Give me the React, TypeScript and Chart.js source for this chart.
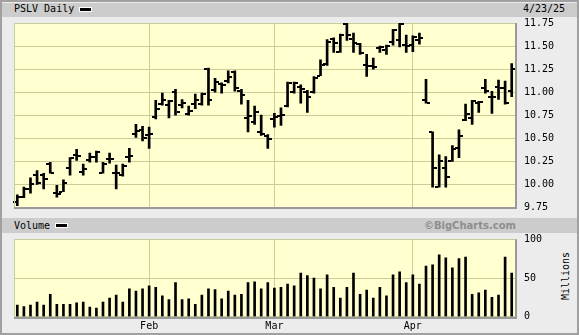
import React, { useEffect, useRef } from 'react';
import { Chart, registerables } from 'chart.js';

Chart.register(...registerables);

// ---------- data ----------
const dates: string[] = [
  '1/2', '1/3', '1/6', '1/7', '1/8', '1/10', '1/13', '1/14', '1/15', '1/16', '1/17', '1/21', '1/22', '1/23', '1/24', '1/27', '1/28', '1/29', '1/30', '1/31',
  '2/3', '2/4', '2/5', '2/6', '2/7', '2/10', '2/11', '2/12', '2/13', '2/14', '2/18', '2/19', '2/20', '2/21', '2/24', '2/25', '2/26', '2/27', '2/28',
  '3/3', '3/4', '3/5', '3/6', '3/7', '3/10', '3/11', '3/12', '3/13', '3/14', '3/17', '3/18', '3/19', '3/20', '3/21', '3/24', '3/25', '3/26', '3/27', '3/28', '3/31',
  '4/1', '4/2', '4/3', '4/4', '4/7', '4/8', '4/9', '4/10', '4/11', '4/14', '4/15', '4/16', '4/17', '4/21', '4/22', '4/23',
];

const opens: number[] = [
  9.81, 9.86, 9.95, 10.10, 10.10, 10.22, 9.905, 9.92, 10.18, 10.315, 10.13, 10.26, 10.30, 10.12, 10.28, 10.12, 10.10, 10.30, 10.55, 10.59,
  10.53, 10.73, 10.87, 10.86, 11.00, 10.86, 10.76, 10.87, 10.87, 11.25, 11.02, 11.09, 11.12, 11.22, 11.01, 10.72, 10.68, 10.57, 10.52,
  10.71, 10.74, 10.85, 11.00, 11.06, 11.00, 11.00, 11.18, 11.30, 11.58, 11.44, 11.74, 11.58, 11.52, 11.29, 11.28, 11.48, 11.46, 11.54, 11.57, 11.51,
  11.51, 11.57, 10.91, 10.57, 9.97, 10.18, 10.25, 10.39, 10.70, 10.72, 10.88, 11.04, 10.95, 11.06, 11.05, 11.01,
];
const highs: number[] = [
  9.885, 9.97, 10.07, 10.15, 10.12, 10.24, 9.99, 10.05, 10.29, 10.38, 10.22, 10.34, 10.36, 10.24, 10.34, 10.21, 10.22, 10.39, 10.65, 10.63,
  10.62, 10.91, 10.99, 10.91, 11.03, 10.92, 10.85, 10.98, 10.99, 11.26, 11.15, 11.10, 11.23, 11.23, 11.03, 10.91, 10.85, 10.75, 10.54,
  10.77, 10.83, 11.11, 11.11, 11.08, 11.02, 11.17, 11.35, 11.57, 11.59, 11.63, 11.75, 11.64, 11.53, 11.41, 11.37, 11.50, 11.51, 11.68, 11.75, 11.62,
  11.61, 11.64, 11.14, 10.57, 10.32, 10.30, 10.42, 10.59, 10.87, 10.91, 10.90, 11.14, 11.01, 11.13, 11.12, 11.31,
];
const lows: number[] = [
  9.77, 9.855, 9.905, 10.00, 9.95, 10.12, 9.86, 9.92, 10.10, 10.26, 10.10, 10.24, 10.24, 10.12, 10.23, 9.95, 10.09, 10.24, 10.51, 10.47,
  10.39, 10.71, 10.86, 10.72, 10.75, 10.83, 10.75, 10.82, 10.86, 10.86, 11.00, 10.99, 11.10, 11.01, 10.87, 10.57, 10.65, 10.53, 10.39,
  10.62, 10.64, 10.84, 10.99, 10.88, 10.78, 10.99, 11.18, 11.29, 11.43, 11.43, 11.56, 11.43, 11.41, 11.17, 11.25, 11.43, 11.41, 11.51, 11.49, 11.43,
  11.44, 11.52, 10.88, 9.97, 9.97, 9.97, 10.25, 10.29, 10.69, 10.65, 10.78, 10.99, 10.77, 10.92, 10.87, 10.95,
];
const closes: number[] = [
  9.86, 9.95, 10.00, 10.01, 10.06, 10.12, 9.90, 10.01, 10.29, 10.31, 10.17, 10.30, 10.35, 10.22, 10.27, 10.12, 10.20, 10.31, 10.58, 10.50,
  10.55, 10.82, 10.91, 10.90, 10.79, 10.88, 10.80, 10.92, 10.98, 10.92, 11.11, 11.08, 11.16, 11.04, 10.97, 10.74, 10.79, 10.55, 10.49,
  10.73, 10.75, 11.10, 11.10, 11.03, 10.95, 11.15, 11.29, 11.54, 11.53, 11.62, 11.62, 11.53, 11.42, 11.28, 11.27, 11.49, 11.50, 11.67, 11.74, 11.50,
  11.60, 11.59, 10.88, 10.18, 10.25, 10.08, 10.38, 10.52, 10.76, 10.90, 10.89, 11.01, 10.95, 11.05, 10.88, 11.25,
];
// volume, millions of shares
const volumes: number[] = [
  15, 13, 15, 19, 15, 29, 16, 16, 16, 18, 19, 12.5, 11, 19, 24, 28, 19, 36, 33, 36,
  40, 38, 27, 22, 44, 22, 23, 16, 28, 36, 35, 23, 33, 28, 29, 44, 45, 36, 44,
  37, 38, 42, 40, 56.5, 53, 50, 36, 54, 38, 24, 38, 56.5, 29, 34.5, 24, 38, 27, 54, 58, 44,
  54, 42, 65.5, 67, 80, 76, 63, 75, 77, 29, 31, 34.5, 25, 28, 77, 56.5,
];

const monthLabels: Record<string, string> = { '2/3': 'Feb', '3/3': 'Mar', '4/1': 'Apr' };
const priceTicks: number[] = [9.75, 10.0, 10.25, 10.5, 10.75, 11.0, 11.25, 11.5, 11.75];
const volumeTicks: number[] = [0, 50, 100];

// ---------- styles ----------
const PLOT_BG = '#ffffcf';
const GRID = '#cccc99';
const FRAME_DARK = '#9a9a9a';
const MONO = "'DejaVu Sans Mono', monospace";

const isMonthStart = (i: number) => monthLabels[dates[i]] !== undefined;

function tickImage(side: 'left' | 'right'): HTMLCanvasElement {
  const c = document.createElement('canvas');
  c.width = 8;
  c.height = 2;
  const g = c.getContext('2d')!;
  g.fillStyle = '#000';
  g.fillRect(side === 'left' ? 0 : 5, 0, 3, 2);
  return c;
}

const framePlugin = {
  id: 'plotFrame',
  beforeDraw(chart: any) {
    const { ctx, chartArea: a } = chart;
    ctx.save();
    ctx.fillStyle = PLOT_BG;
    ctx.fillRect(a.left, a.top, a.right - a.left, a.bottom - a.top);
    ctx.restore();
  },
  beforeDatasetsDraw(chart: any) {
    chart.ctx.imageSmoothingEnabled = false;
  },
  afterDraw(chart: any) {
    const { ctx, chartArea: a } = chart;
    ctx.save();
    ctx.lineWidth = 1;
    ctx.strokeStyle = GRID;
    ctx.beginPath();
    const lx = Math.round(a.left) + 0.5;
    ctx.moveTo(lx, a.top);
    ctx.lineTo(lx, a.bottom);
    ctx.stroke();
    ctx.strokeStyle = FRAME_DARK;
    ctx.lineWidth = 2;
    const by = Math.round(a.bottom) + 1;
    const rx = Math.round(a.right) + 1;
    ctx.beginPath();
    ctx.moveTo(a.left, by);
    ctx.lineTo(rx + 1, by);
    ctx.moveTo(rx, a.top);
    ctx.lineTo(rx, by + 1);
    ctx.stroke();
    ctx.restore();
  },
};

const axisFont = { family: MONO, size: 10 };

const fixRightAxis = (s: any) => {
  s.width = 64;
  s.paddingTop = 0;
  s.paddingBottom = 0;
};

export default function App() {
  const priceRef = useRef<HTMLCanvasElement>(null);
  const volRef = useRef<HTMLCanvasElement>(null);

  useEffect(() => {
    const openImg = tickImage('left');
    const closeImg = tickImage('right');

    const price = new Chart(priceRef.current!, {
      type: 'bar',
      data: {
        labels: dates,
        datasets: [
          {
            type: 'bar',
            data: dates.map((_, i) => [lows[i], highs[i]]) as any,
            backgroundColor: '#000',
            borderWidth: 0,
            barThickness: 2,
            order: 2,
          },
          {
            type: 'line',
            data: opens,
            showLine: false,
            pointStyle: openImg as any,
            pointRadius: 3,
            order: 1,
          } as any,
          {
            type: 'line',
            data: closes,
            showLine: false,
            pointStyle: closeImg as any,
            pointRadius: 3,
            order: 1,
          } as any,
        ],
      },
      options: {
        animation: false,
        responsive: false,
        events: [],
        layout: { padding: { left: 14, top: 23, right: 0, bottom: 8.6 } },
        plugins: { legend: { display: false }, tooltip: { enabled: false } },
        scales: {
          x: {
            type: 'category',
            offset: true,
            border: { display: false },
            grid: {
              offset: false,
              drawTicks: false,
              color: (c: any) => (isMonthStart(c.index) ? GRID : 'rgba(0,0,0,0)'),
            },
            ticks: { display: false, autoSkip: false },
          },
          y: {
            position: 'right',
            min: priceTicks[0],
            max: priceTicks[priceTicks.length - 1],
            border: { display: false },
            grid: { color: GRID, drawTicks: false },
            afterBuildTicks: (s: any) => {
              s.ticks = priceTicks.map((v) => ({ value: v }));
            },
            afterFit: fixRightAxis,
            ticks: {
              padding: 9,
              color: '#000',
              font: axisFont,
              callback: (v: any) => Number(v).toFixed(2),
            },
          },
        },
      } as any,
      plugins: [framePlugin],
    });

    const vol = new Chart(volRef.current!, {
      type: 'bar',
      data: {
        labels: dates,
        datasets: [
          {
            data: volumes,
            backgroundColor: '#000',
            borderWidth: 0,
            barThickness: 2,
          },
        ],
      },
      options: {
        animation: false,
        responsive: false,
        events: [],
        layout: { padding: { left: 14, top: 7.3, right: 0, bottom: 0 } },
        plugins: { legend: { display: false }, tooltip: { enabled: false } },
        scales: {
          x: {
            type: 'category',
            offset: true,
            border: { display: false },
            grid: {
              offset: false,
              drawTicks: false,
              color: (c: any) => (isMonthStart(c.index) ? GRID : 'rgba(0,0,0,0)'),
            },
            afterFit: (s: any) => {
              s.height = 18.3;
              s.paddingLeft = 0;
              s.paddingRight = 0;
            },
            ticks: {
              autoSkip: false,
              maxRotation: 0,
              minRotation: 0,
              padding: 4,
              color: '#000',
              font: axisFont,
              callback: (_v: any, i: number) => monthLabels[dates[i]] ?? '',
            },
          },
          y: {
            position: 'right',
            min: volumeTicks[0],
            max: volumeTicks[volumeTicks.length - 1],
            border: { display: false },
            grid: { color: GRID, drawTicks: false },
            afterBuildTicks: (s: any) => {
              s.ticks = volumeTicks.map((v) => ({ value: v }));
            },
            afterFit: fixRightAxis,
            ticks: {
              padding: 9,
              color: '#000',
              font: axisFont,
              callback: (v: any) => String(v),
            },
          },
        },
      } as any,
      plugins: [framePlugin],
    });

    return () => {
      price.destroy();
      vol.destroy();
    };
  }, []);

  const monoText: React.CSSProperties = {
    position: 'absolute',
    fontFamily: MONO,
    fontSize: 10,
    lineHeight: '10px',
    color: '#000',
    whiteSpace: 'nowrap',
  };
  const swatch = (left: number, top: number): React.CSSProperties => ({
    position: 'absolute',
    left,
    top,
    width: 11,
    height: 3,
    background: '#000',
    outline: '1px solid #fff',
  });

  return (
    <div
      style={{
        position: 'absolute',
        left: 0,
        top: 0,
        width: 579,
        height: 335,
        background: '#ececec',
        boxShadow: 'inset 0 0 0 2px #a0a0a0',
        overflow: 'hidden',
      }}
    >
      <div style={{ position: 'absolute', left: 2, top: 3, width: 575, height: 14, background: '#cccccc' }} />
      <div style={{ position: 'absolute', left: 2, top: 218, width: 575, height: 15, background: '#cccccc' }} />
      <div style={{ ...monoText, left: 14, top: 4.3 }}>PSLV Daily</div>
      <div style={swatch(80, 8)} />
      <div style={{ ...monoText, left: 523, top: 4.3 }}>4/23/25</div>
      <div style={{ ...monoText, left: 14, top: 220.5 }}>Volume</div>
      <div style={swatch(56, 224)} />
      <div
        style={{
          position: 'absolute',
          right: 63,
          top: 220.5,
          fontFamily: "'DejaVu Sans', sans-serif",
          fontWeight: 'bold',
          fontSize: 10,
          lineHeight: '10px',
          color: '#8e8e8e',
          whiteSpace: 'nowrap',
        }}
      >
        ©BigCharts.com
      </div>
      <div
        style={{
          ...monoText,
          left: 566,
          top: 275.5,
          transform: 'translate(-50%, -50%) rotate(-90deg)',
        }}
      >
        Millions
      </div>
      <canvas ref={priceRef} width={579} height={216} style={{ position: 'absolute', left: 0, top: 0 }} />
      <canvas ref={volRef} width={579} height={103} style={{ position: 'absolute', left: 0, top: 232 }} />
    </div>
  );
}
